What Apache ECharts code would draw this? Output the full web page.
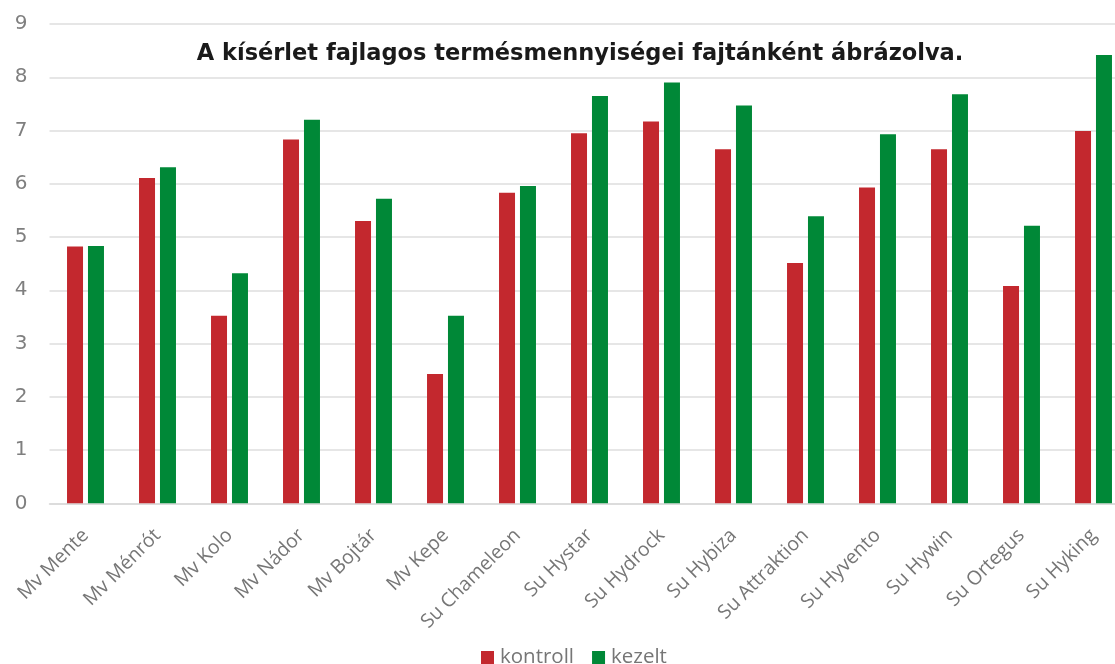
<!DOCTYPE html>
<html>
<head>
<meta charset="utf-8">
<script src="https://cdn.jsdelivr.net/npm/echarts@6/dist/echarts.min.js"></script>
<style>
  html, body { margin: 0; padding: 0; background: #fff; }
  #chart { width: 1115px; height: 664px; }
</style>
</head>
<body>
<div id="chart"></div>
<script>
// fajták
var categories = ['Mv Mente', 'Mv Ménrót', 'Mv Kolo', 'Mv Nádor', 'Mv Bojtár', 'Mv Kepe',
  'Su Chameleon', 'Su Hystar', 'Su Hydrock', 'Su Hybiza', 'Su Attraktion', 'Su Hyvento',
  'Su Hywin', 'Su Ortegus', 'Su Hyking'];
var kontroll = [4.82, 6.11, 3.52, 6.83, 5.30, 2.43, 5.83, 6.95, 7.17, 6.65, 4.51, 5.93, 6.65, 4.08, 6.99];
var kezelt   = [4.83, 6.31, 4.32, 7.20, 5.72, 3.52, 5.96, 7.65, 7.90, 7.47, 5.39, 6.93, 7.68, 5.21, 8.42];
var yTicks = [0, 1, 2, 3, 4, 5, 6, 7, 8, 9];

var chart = echarts.init(document.getElementById('chart'));

chart.setOption({
  backgroundColor: '#fff',
  animation: false,
  title: {
    text: 'A kísérlet fajlagos termésmennyiségei fajtánként ábrázolva.',
    left: 575,
    top: 38,
    textAlign: 'center',
    textStyle: {
      fontFamily: 'DejaVu Sans',
      fontWeight: 'bold',
      fontSize: 22.5,
      color: '#1a1a1a'
    }
  },
  legend: {
    top: 642,
    left: 476,
    itemWidth: 13,
    itemHeight: 13,
    itemGap: 18,
    icon: 'rect',
    textStyle: { fontFamily: 'Open Sans', fontSize: 20.5, color: '#767676', padding: [0, 0, 0, 1] },
    data: ['kontroll', 'kezelt']
  },
  // szélesebb mint a vászon, a jobb széle kilóg (mint az eredetin)
  grid: { left: 49.5, width: 1080, top: 24, height: 479.3, outerBoundsMode: 'none' },
  xAxis: {
    type: 'category',
    data: categories,
    axisLine: { lineStyle: { color: '#d9d9d9', width: 1.5 } },
    axisTick: { show: false },
    axisLabel: {
      rotate: 45,
      interval: 0,
      margin: 29,
      fontFamily: 'Open Sans',
      fontSize: 19.5,
      color: '#767676'
    }
  },
  yAxis: {
    type: 'value',
    min: yTicks[0],
    max: yTicks[yTicks.length - 1],
    interval: 1,
    axisLine: { show: false },
    axisTick: { show: false },
    splitLine: { lineStyle: { color: '#dedede', width: 1.5 } },
    axisLabel: {
      margin: 22,
      fontFamily: 'DejaVu Sans',
      fontSize: 20,
      color: '#7f7f7f'
    }
  },
  series: [
    {
      name: 'kontroll',
      type: 'bar',
      data: kontroll,
      barWidth: 16,
      barGap: '31%',
      itemStyle: { color: '#c3282e' }
    },
    {
      name: 'kezelt',
      type: 'bar',
      data: kezelt,
      barWidth: 16,
      itemStyle: { color: '#008837' }
    }
  ]
});
</script>
</body>
</html>
